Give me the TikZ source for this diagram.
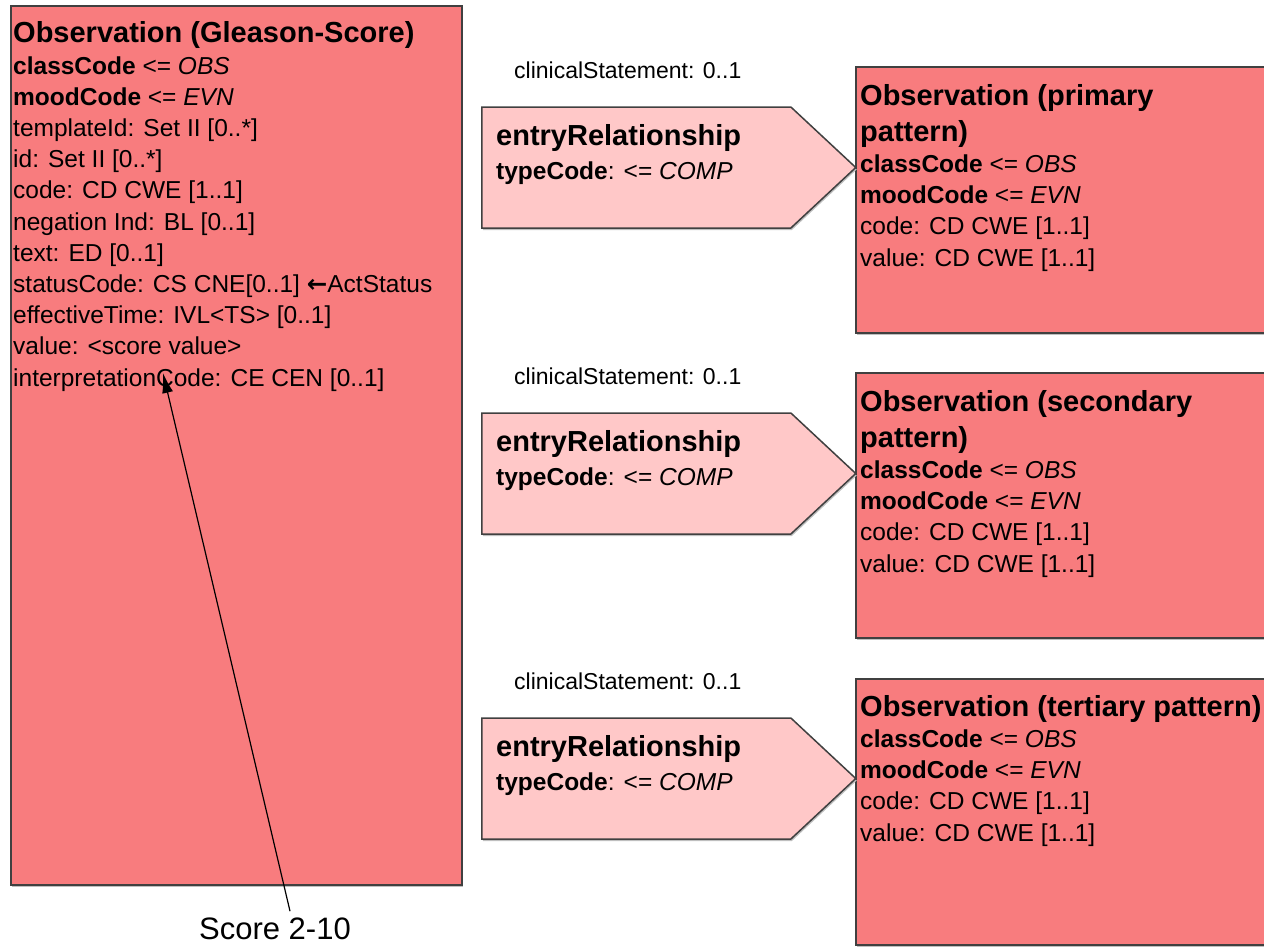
\documentclass[tikz,border=0pt]{standalone}
\usepackage{fontspec}
\setmainfont{Liberation Sans}
\newfontfamily\symfont{DejaVu Sans}
\usetikzlibrary{shapes.symbols}
\usetikzlibrary{shadows}
\usetikzlibrary{arrows.meta}

\definecolor{obsred}{RGB}{248,124,126}
\definecolor{erpink}{RGB}{255,200,200}
\definecolor{edgegray}{RGB}{64,64,64}

\newcommand{\attfont}{\fontsize{24.5}{31.2}\selectfont}
\newcommand{\titfont}{\fontsize{29}{31.2}\selectfont\bfseries}

\tikzset{
  obsbox/.style={draw=edgegray, line width=1.5pt, fill=obsred, inner sep=0pt, anchor=north west,
    drop shadow={shadow xshift=1.5pt, shadow yshift=-2pt, fill=black!25, opacity=1}},
  entrybox/.style={draw=edgegray, line width=1.5pt, fill=erpink, inner sep=0pt, anchor=west,
    signal, signal to=east, signal pointer angle=86,
    minimum width=374pt, minimum height=121pt,
    drop shadow={shadow xshift=1pt, shadow yshift=-2pt, fill=black!25, opacity=1}},
  % placed at the baseline of the last line
  attlist/.style={anchor=base west, align=left, inner sep=0pt, font=\attfont},
  cardlabel/.style={anchor=base west, inner sep=0pt, font=\fontsize{23}{28}\selectfont}
}

\begin{document}
\begin{tikzpicture}[x=1pt,y=-1pt]
				\useasboundingbox (0,0) rectangle (1264,946);

				% Gleason score class
				\node[obsbox, minimum width=451pt, minimum height=879pt] (gleason) at (10,5) {};
				\node[attlist] (gleasontext) at (13,386) {{\titfont Observation (Gleason-Score)}\\
					\textbf{classCode} <= \textit{OBS}\\
					\textbf{moodCode} <= \textit{EVN}\\
					templateId: Set II [0..*]\\
					id: Set II [0..*]\\
					code: CD CWE [1..1]\\
					negation Ind: BL [0..1]\\
					text: ED [0..1]\\
					statusCode: CS CNE[0..1] {\symfont\bfseries ←}ActStatus\\
					effectiveTime: IVL<TS> [0..1]\\
					value: <score value>\\
					interpretationCode: CE CEN [0..1]};

				% pattern classes
				\node[obsbox, minimum width=420pt, minimum height=266pt] (primary) at (855,66) {};
				\node[attlist] (primarytext) at (860,266) {{\titfont Observation (primary}\\[5pt]
					{\titfont pattern)}\\
					\textbf{classCode} <= \textit{OBS}\\
					\textbf{moodCode} <= \textit{EVN}\\
					code: CD CWE [1..1]\\
					value: CD CWE [1..1]};

				\node[obsbox, minimum width=420pt, minimum height=265pt] (secondary) at (855,372) {};
				\node[attlist] (secondarytext) at (860,572) {{\titfont Observation (secondary}\\[5pt]
					{\titfont pattern)}\\
					\textbf{classCode} <= \textit{OBS}\\
					\textbf{moodCode} <= \textit{EVN}\\
					code: CD CWE [1..1]\\
					value: CD CWE [1..1]};

				\node[obsbox, minimum width=420pt, minimum height=266pt] (tertiary) at (855,678) {};
				\node[attlist] (tertiarytext) at (860,841) {{\titfont Observation (tertiary pattern)}\\
					\textbf{classCode} <= \textit{OBS}\\
					\textbf{moodCode} <= \textit{EVN}\\
					code: CD CWE [1..1]\\
					value: CD CWE [1..1]};

				% entry relationships
				\foreach \i/\y in {1/0, 2/306, 3/611}{
					\node[cardlabel] (card\i) at (514,78+\y) {clinicalStatement: 0..1};
					\node[entrybox] (er\i) at (481,167.5+\y) {};
					\node[attlist] (ertext\i) at (496,179+\y) {{\titfont entryRelationship}\\[2pt]
						\textbf{typeCode}: <= \textit{COMP}};
				}

				% score note
				\node[anchor=base, inner sep=0pt, font=\fontsize{31}{36}\selectfont] (score) at (275,939) {Score 2-10};
				\coordinate (scoretip) at (163,373);
				\draw[line width=1.2pt, -{Latex[length=20pt,width=11pt]}] ([xshift=15pt,yshift=6pt]score.north) -- (scoretip);

			\end{tikzpicture}
\end{document}
